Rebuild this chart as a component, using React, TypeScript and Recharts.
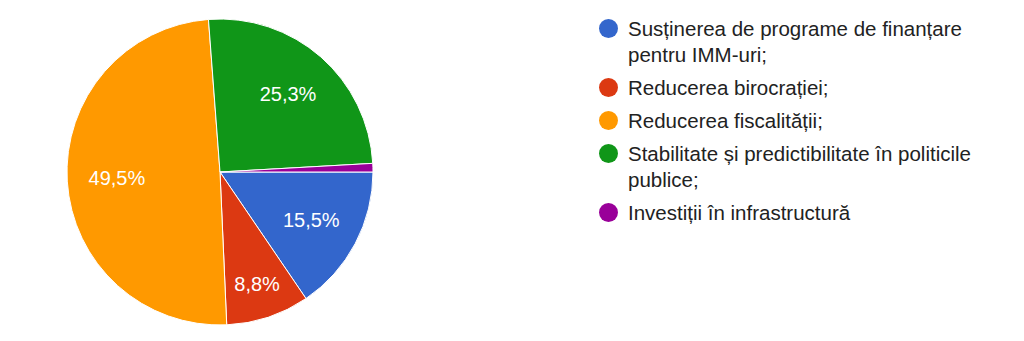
import React from "react";
import { PieChart, Pie, Cell, Legend } from "recharts";

const labels = [
  "Susținerea de programe de finanțare pentru IMM-uri;",
  "Reducerea birocrației;",
  "Reducerea fiscalității;",
  "Stabilitate și predictibilitate în politicile publice;",
  "Investiții în infrastructură",
];
const values = [15.5, 8.8, 49.5, 25.3, 0.9];
const colors = ["#3366cc", "#dc3912", "#ff9900", "#109618", "#990099"];

const data = labels.map((name, i) => ({ name, value: values[i] }));

const FONT = "Arial, 'Liberation Sans', sans-serif";
const RADIAN = Math.PI / 180;

const renderLabel = (props: any) => {
  const { cx, cy, midAngle, outerRadius, percent, value } = props;
  if (percent < 0.05) return null;
  // narrow slices get their label pushed outwards a bit, like google charts does
  const r = outerRadius * (percent < 0.1 ? 0.77 : 0.675);
  const x = cx + r * Math.cos(-midAngle * RADIAN);
  const y = cy + r * Math.sin(-midAngle * RADIAN);
  return (
    <text
      x={x}
      y={y}
      fill="#ffffff"
      textAnchor="middle"
      dominantBaseline="central"
      style={{ fontFamily: FONT, fontSize: 20 }}
    >
      {value.toFixed(1).replace(".", ",")}%
    </text>
  );
};

const LegendContent = () => (
  <div style={{ fontFamily: FONT, fontSize: 20.5, lineHeight: "26px", color: "#222" }}>
    {data.map((d, i) => (
      <div key={d.name} style={{ display: "flex", alignItems: "flex-start", marginBottom: 7 }}>
        <div
          style={{
            width: 19,
            height: 19,
            borderRadius: "50%",
            background: colors[i],
            marginTop: 3.3,
            marginRight: 10,
            flexShrink: 0,
          }}
        />
        <span style={{ width: 370 }}>{d.name}</span>
      </div>
    ))}
  </div>
);

export default function App() {
  return (
    <div style={{ position: "absolute", left: 0, top: 0, width: 1024, height: 341, background: "#fff" }}>
      <PieChart width={1024} height={341} margin={{ top: 0, right: 0, bottom: 0, left: 0 }}>
        <Pie
          data={data}
          dataKey="value"
          nameKey="name"
          cx={220}
          cy={172}
          outerRadius={153}
          startAngle={0}
          endAngle={-360}
          stroke="#ffffff"
          strokeWidth={1}
          label={renderLabel}
          labelLine={false}
          isAnimationActive={false}
        >
          {data.map((d, i) => (
            <Cell key={d.name} fill={colors[i]} />
          ))}
        </Pie>
        <Legend
          content={<LegendContent />}
          wrapperStyle={{ left: 599, top: 16, width: 420 }}
        />
      </PieChart>
    </div>
  );
}
